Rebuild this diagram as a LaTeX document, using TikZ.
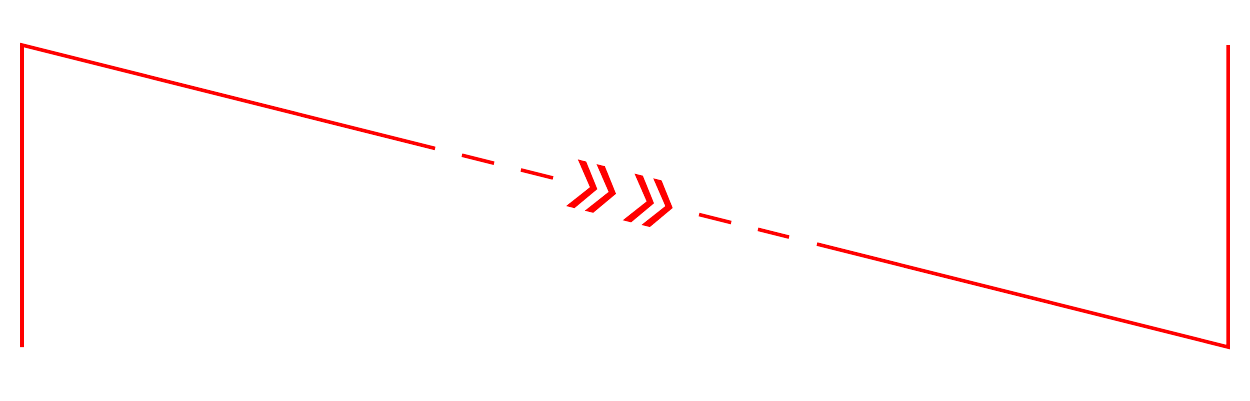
\documentclass[tikz,border=0pt]{standalone}
\usetikzlibrary{calc}

\begin{document}
\begin{tikzpicture}[
  wire/.style={draw=red, line width=1pt},
  dashwire/.style={wire, dash pattern=on 9.4pt off 7.9pt},
  chevron/.style={fill=red}
]
\useasboundingbox (0,0) rectangle (12.5,4);
\coordinate (a) at (0.22,0.53);
\coordinate (b) at (0.22,3.55);
\coordinate (c) at (12.28,0.53);
\coordinate (d) at (12.28,3.55);
\draw[wire] (a) -- (b) -- ($(b)!0.3425!(c)$);
\draw[dashwire] ($(b)!0.3648!(c)$) -- ($(b)!0.4403!(c)$);
\draw[dashwire] ($(b)!0.5614!(c)$) -- ($(b)!0.6360!(c)$);
\draw[wire] ($(b)!0.6592!(c)$) -- (c) -- (d);
% direction marks
\foreach \t in {0.4770,0.4925,0.5240,0.5395}
  \fill[chevron, shift={($(b)!\t!(c)$)}, rotate=-14.06]
    (0,0) -- (-0.175,0.24) -- (-0.26,0.24) -- (-0.075,0)
    -- (-0.26,-0.24) -- (-0.175,-0.24) -- cycle;
\end{tikzpicture}
\end{document}
